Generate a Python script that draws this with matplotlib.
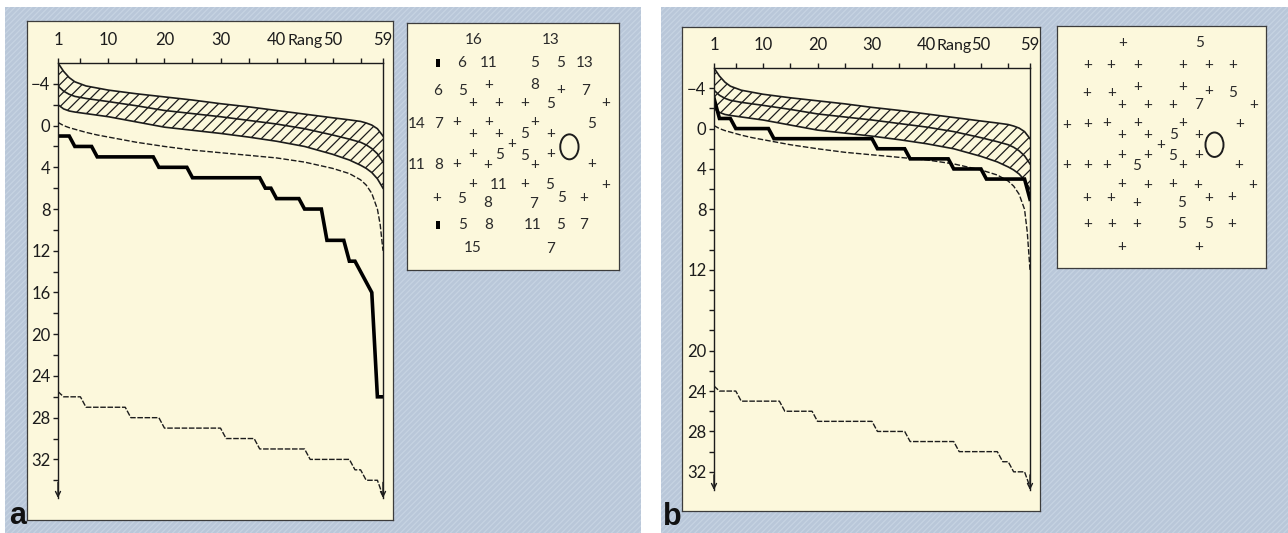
import numpy as np
import matplotlib
matplotlib.use("Agg")
import matplotlib.pyplot as plt
from matplotlib.patches import Rectangle, Ellipse

plt.rcParams['font.family'] = ['Lato', 'DejaVu Sans']
plt.rcParams['hatch.linewidth'] = 0.9

# ---- Bebie curve data (rank 1..59, local defect in dB) ----
rank = np.arange(1, 60)
patient_a = [1, 1, 1, 2, 2, 2, 2, 3, 3, 3, 3, 3, 3, 3, 3, 3, 3, 3, 4, 4, 4, 4, 4, 4,
             5, 5, 5, 5, 5, 5, 5, 5, 5, 5, 5, 5, 5, 6, 6, 7, 7, 7, 7, 7, 8, 8, 8, 8,
             11, 11, 11, 11, 13, 13, 14, 15, 16, 26, 26]
patient_b = [-3, -1, -1, -1, 0, 0, 0, 0, 0, 0, 0, 1, 1, 1, 1, 1, 1, 1, 1, 1, 1, 1, 1,
             1, 1, 1, 1, 1, 1, 1, 2, 2, 2, 2, 2, 2, 3, 3, 3, 3, 3, 3, 3, 3, 4, 4, 4, 4,
             4, 4, 5, 5, 5, 5, 5, 5, 5, 5, 7]
floor_a = [25.5, 26, 26, 26, 26, 27, 27, 27, 27, 27, 27, 27, 27, 28, 28, 28, 28, 28, 28,
           29, 29, 29, 29, 29, 29, 29, 29, 29, 29, 29, 30, 30, 30, 30, 30, 30,
           31, 31, 31, 31, 31, 31, 31, 31, 31, 32, 32, 32, 32, 32, 32, 32, 32,
           33, 33, 34, 34, 34, 35.5]
floor_b = [23.5, 24, 24, 24, 24, 25, 25, 25, 25, 25, 25, 25, 25, 26, 26, 26, 26, 26, 26,
           27, 27, 27, 27, 27, 27, 27, 27, 27, 27, 27, 28, 28, 28, 28, 28, 28,
           29, 29, 29, 29, 29, 29, 29, 29, 29, 30, 30, 30, 30, 30, 30, 30, 30,
           31, 31, 32, 32, 32, 33.5]

# normal band (same reference for both eyes)
norm_rank = [1, 2, 3, 4, 6, 8, 10, 15, 20, 25, 30, 35, 40, 45, 50, 53, 55, 56, 57, 58, 59]
norm_upper = [-6.0, -5.2, -4.6, -4.2, -3.8, -3.6, -3.4, -3.05, -2.75, -2.45, -2.1, -1.8,
              -1.45, -1.1, -0.75, -0.55, -0.4, -0.25, -0.05, 0.3, 1.0]
norm_median = [-3.8, -3.3, -3.0, -2.8, -2.6, -2.45, -2.3, -1.9, -1.45, -1.15, -0.85, -0.5,
               -0.15, 0.3, 0.9, 1.3, 1.6, 1.85, 2.2, 2.7, 3.5]
norm_lower = [-2.0, -1.6, -1.4, -1.3, -1.15, -1.0, -0.85, -0.35, 0.15, 0.45, 0.75, 1.1,
              1.5, 2.0, 2.75, 3.3, 3.8, 4.1, 4.5, 5.1, 6.0]
lim_rank = [1, 2, 3, 4, 6, 8, 10, 15, 20, 25, 30, 35, 40, 45, 50, 53, 55, 56, 57, 58, 58.5, 59]
norm_limit = [-0.3, 0.0, 0.2, 0.35, 0.65, 0.9, 1.1, 1.6, 2.0, 2.35, 2.6, 2.85, 3.1, 3.5,
              4.1, 4.6, 5.2, 5.7, 6.5, 8.0, 9.5, 12.0]

xtick_major = [1, 10, 20, 30, 40, 50, 59]
xtick_minor = [5, 15, 25, 35, 45, 55]
ytick_a = [-4, 0, 4, 8, 12, 16, 20, 24, 28, 32]
ytick_b = [-4, 0, 4, 8, 12, 20, 24, 28, 32]

# ---- visual field (test locations + defect values) ----
vf_x = [200, 433,
        93, 165, 245, 384, 462, 535,
        92, 166, 245, 384, 463, 536,
        196, 276, 354, 431, 598,
        30, 95, 150, 245, 384, 556,
        196, 276, 354, 432,
        316,
        196, 277, 353, 432,
        30, 95, 150, 242, 384, 554,
        196, 276, 353, 429, 596,
        90, 165, 243, 380, 463, 532,
        94, 166, 244, 379, 461, 532,
        198, 432]
vf_y = [52, 52,
        121, 121, 121, 121, 121, 121,
        205, 205, 187, 186, 200, 204,
        241, 241, 241, 243, 241,
        303, 302, 296, 296, 297, 302,
        334, 334, 334, 334,
        364,
        395, 396, 400, 394,
        427, 427, 425, 428, 427, 425,
        484, 488, 485, 488, 488,
        527, 528, 542, 543, 527, 525,
        607, 607, 607, 607, 607, 607,
        677, 678]
vf_a = ['16', '13',
        '■', '6', '11', '5', '5', '13',
        '6', '5', '+', '8', '+', '7',
        '+', '+', '+', '5', '+',
        '14', '7', '+', '+', '+', '5',
        '+', '+', '5', '+',
        '+',
        '+', '5', '5', '+',
        '11', '8', '+', '+', '+', '+',
        '+', '11', '+', '5', '+',
        '+', '5', '8', '7', '5', '+',
        '■', '5', '8', '11', '5', '7',
        '15', '7']
vf_b = ['+', '5',
        '+', '+', '+', '+', '+', '+',
        '+', '+', '+', '+', '+', '5',
        '+', '+', '+', '7', '+',
        '+', '+', '+', '+', '+', '+',
        '+', '+', '5', '+',
        '+',
        '+', '+', '5', '+',
        '+', '+', '+', '5', '+', '+',
        '+', '+', '+', '+', '+',
        '+', '+', '+', '5', '+', '+',
        '+', '+', '+', '5', '5', '+',
        '+', '+']
blind_a = (488, 372)
blind_b = (480, 364)

BLUE = '#b9c7d9'
CREAM = '#fcf8dc'
INK = '#1c1c1c'
W, H = 1288, 533


def frect(x0, y0, x1, y1):
    return [x0 / W, 1 - y1 / H, (x1 - x0) / W, (y1 - y0) / H]


def box(fig, r):
    ax = fig.add_axes(frect(*r))
    ax.set_facecolor(CREAM)
    ax.set_xticks([]); ax.set_yticks([])
    for s in ax.spines.values():
        s.set_color('#3c3c3c'); s.set_linewidth(0.9)
    return ax


def bebie(ax, patient, floor, ylim, yticks, yminor):
    ax.set_facecolor('none')
    ax.set_xlim(1, 59)
    ax.set_ylim(*ylim)
    ax.fill_between(norm_rank, norm_upper, norm_lower, facecolor='none',
                    edgecolor=INK, hatch='///', lw=0)
    ax.plot(norm_rank, norm_upper, color=INK, lw=1.2)
    ax.plot(norm_rank, norm_median, color=INK, lw=1.2)
    ax.plot(norm_rank, norm_lower, color=INK, lw=1.2)
    ax.plot(lim_rank, norm_limit, color=INK, lw=1.0, ls=(0, (4, 1.5)))
    ax.plot(rank, floor, color=INK, lw=1.0, ls=(0, (4, 1.2)))
    ax.plot(rank, patient, color='black', lw=2.6, solid_joinstyle='miter')

    ax.spines['bottom'].set_visible(False)
    for s in ['left', 'top', 'right']:
        ax.spines[s].set_color(INK); ax.spines[s].set_linewidth(1.0)
    ax.xaxis.tick_top()
    ax.set_xticks(xtick_major)
    ax.set_xticklabels([str(v) for v in xtick_major])
    ax.set_xticks(xtick_minor, minor=True)
    ax.set_yticks(yticks)
    ax.set_yticklabels([('−' + str(-v)) if v < 0 else str(v) for v in yticks])
    ax.set_yticks(yminor, minor=True)
    ax.tick_params(axis='x', which='both', direction='out', length=3.6, width=1,
                   pad=7, labelsize=12, colors=INK)
    ax.tick_params(axis='y', which='both', direction='out', length=3.4, width=1,
                   pad=2, labelsize=12, colors=INK)
    ax.annotate('Rang', xy=(45.1, 1), xycoords=ax.get_xaxis_transform(),
                xytext=(0, 10.6), textcoords='offset points', ha='center',
                va='bottom', fontsize=11.5, color=INK)
    for xr in (1, 59):
        ax.annotate('', xy=(xr, ylim[0]), xytext=(xr, ylim[0] - 1.5),
                    arrowprops=dict(arrowstyle='->', lw=1.0, color=INK,
                                    mutation_scale=9, shrinkA=0, shrinkB=0),
                    annotation_clip=False)


def field(ax, labels, blind):
    ax.set_xlim(0, 637)
    ax.set_ylim(742, 0)
    for x, y, lab in zip(vf_x, vf_y, labels):
        if lab == '■':
            ax.plot(x, y, marker=[(-0.5, -1), (0.5, -1), (0.5, 1), (-0.5, 1)],
                    ms=6, color='black', mew=0)
        else:
            ax.text(x, y, lab, ha='center', va='center', fontsize=11, color='#2a2a2a')
    ax.add_patch(Ellipse(blind, 55, 75, fill=False, lw=1.4, ec=INK))


def fwd(v):
    v = np.asarray(v, dtype=float)
    return np.where(v <= 8, v, np.where(v >= 12, v + 2, 8 + (v - 8) * 1.5))


def inv(w):
    w = np.asarray(w, dtype=float)
    return np.where(w <= 8, w, np.where(w >= 14, w - 2, 8 + (w - 8) / 1.5))


fig = plt.figure(figsize=(12.88, 5.33), dpi=100)
fig.patch.set_facecolor('white')
for x0, x1 in [(5, 641), (661, 1288)]:
    fig.add_artist(Rectangle((x0 / W, 0), (x1 - x0) / W, (H - 7) / H,
                             transform=fig.transFigure, facecolor=BLUE,
                             edgecolor='#c6d3e2', hatch='//////', lw=0, zorder=-5))

# panel a
box(fig, (27, 21, 393, 520))
ax_a = fig.add_axes(frect(58, 63, 383, 498))
bebie(ax_a, patient_a, floor_a, (35.7, -6), ytick_a,
      [-2, 2, 6, 10, 14, 18, 22, 26, 30, 34])
vf_ax_a = box(fig, (407, 23, 619, 270))
field(vf_ax_a, vf_a, blind_a)

# panel b (y scale stretched between 8 and 12)
box(fig, (682, 27, 1040, 511))
ax_b = fig.add_axes(frect(714, 68, 1030, 490))
ax_b.set_yscale('function', functions=(fwd, inv))
bebie(ax_b, patient_b, floor_b, (33.8, -6), ytick_b,
      [-2, 2, 6, 9.333, 10.667, 14, 16, 18, 22, 26, 30])
vf_ax_b = box(fig, (1057, 26, 1266, 268))
field(vf_ax_b, vf_b, blind_b)

fig.text(9 / W, 1 - 531 / H, 'a', fontsize=22, fontweight='bold',
         family='Liberation Sans', va='bottom', color='#111111')
fig.text(663 / W, 1 - 532 / H, 'b', fontsize=22, fontweight='bold',
         family='Liberation Sans', va='bottom', color='#111111')

fig.savefig('out.png', dpi=100, facecolor=fig.get_facecolor())
